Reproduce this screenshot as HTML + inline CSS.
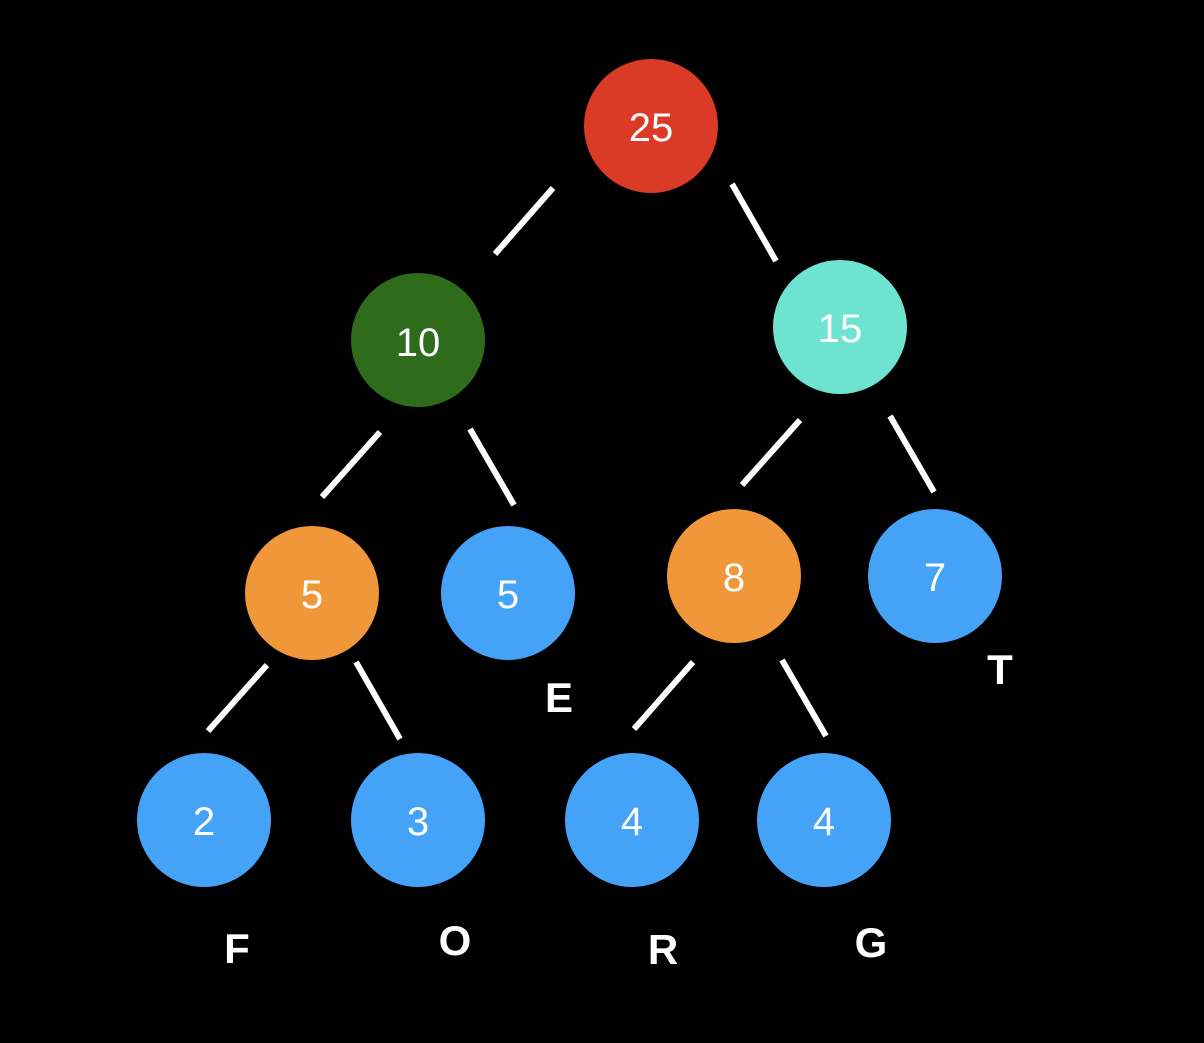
<!DOCTYPE html>
<html><head><meta charset="utf-8"><style>html,body{margin:0;padding:0;background:#000}</style></head>
<body>
<svg width="1204" height="1038" viewBox="0 0 1204 1038" xmlns="http://www.w3.org/2000/svg">
<rect width="1204" height="1038" fill="#000"/>
<g stroke="#fff" stroke-width="6">
<line x1="553" y1="188" x2="495" y2="254"/>
<line x1="732" y1="184" x2="776" y2="261"/>
<line x1="380" y1="432" x2="322" y2="497"/>
<line x1="470" y1="429" x2="514" y2="505"/>
<line x1="800" y1="420" x2="742" y2="485"/>
<line x1="890" y1="416" x2="934" y2="492"/>
<line x1="267" y1="665" x2="208" y2="731"/>
<line x1="356" y1="662" x2="400" y2="739"/>
<line x1="693" y1="662" x2="634" y2="729"/>
<line x1="782" y1="660" x2="826" y2="736"/>
</g>
<circle cx="651" cy="126" r="67" fill="#db3a26"/>
<circle cx="418" cy="340" r="67" fill="#2e6b1b"/>
<circle cx="840" cy="327" r="67" fill="#6ee3cf"/>
<circle cx="312" cy="593" r="67" fill="#f0973a"/>
<circle cx="508" cy="593" r="67" fill="#44a2f7"/>
<circle cx="734" cy="576" r="67" fill="#f0973a"/>
<circle cx="935" cy="576" r="67" fill="#44a2f7"/>
<circle cx="204" cy="820" r="67" fill="#44a2f7"/>
<circle cx="418" cy="820" r="67" fill="#44a2f7"/>
<circle cx="632" cy="820" r="67" fill="#44a2f7"/>
<circle cx="824" cy="820" r="67" fill="#44a2f7"/>
<g fill="#fff" font-family="Liberation Sans, sans-serif" font-size="40" text-anchor="middle">
<text x="651" y="141">25</text>
<text x="418" y="356">10</text>
<text x="840" y="342">15</text>
<text x="312" y="608">5</text>
<text x="508" y="608">5</text>
<text x="734" y="591">8</text>
<text x="935" y="591">7</text>
<text x="204" y="835">2</text>
<text x="418" y="835">3</text>
<text x="632" y="835">4</text>
<text x="824" y="835">4</text>
</g>
<g fill="#fff" font-family="Liberation Sans, sans-serif" font-size="42" font-weight="bold" text-anchor="middle">
<text x="559" y="712">E</text>
<text x="1000" y="684">T</text>
<text x="237" y="963">F</text>
<text x="455" y="955">O</text>
<text x="663" y="964">R</text>
<text x="871" y="957">G</text>
</g>
</svg>
</body></html>
